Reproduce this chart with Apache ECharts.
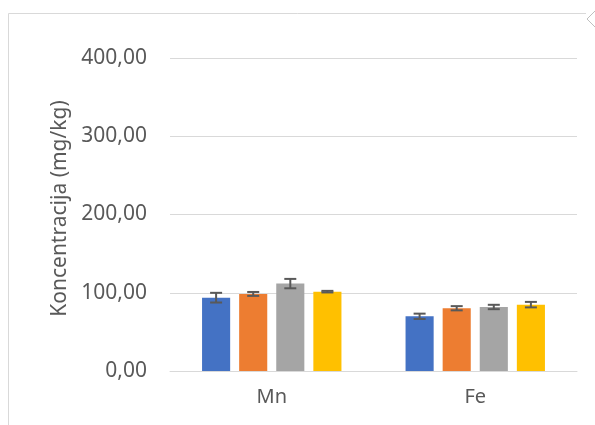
<!DOCTYPE html>
<html>
<head>
<meta charset="utf-8">
<script src="https://cdn.jsdelivr.net/npm/echarts@6/dist/echarts.min.js"></script>
<style>
  html, body { margin: 0; padding: 0; background: #fff; }
  #chart { width: 595px; height: 425px; }
</style>
</head>
<body>
<div id="chart"></div>
<script>
const categories = ['Mn', 'Fe'];
const seriesNames = ['S1', 'S2', 'S3', 'S4'];
const seriesColors = ['#4472C4', '#ED7D31', '#A5A5A5', '#FFC000'];
const values = [
  [93.7, 69.9],
  [98.5, 80.2],
  [111.7, 81.8],
  [101.4, 84.8]
];
const errors = [
  [6.2, 3.4],
  [2.5, 2.7],
  [6.0, 2.8],
  [1.0, 3.5]
];

const CAT_GAP = 0.315;
const BAR_GAP = 0.32;

const chart = echarts.init(document.getElementById('chart'));

const barSeries = seriesNames.map((name, i) => ({
  name: name,
  type: 'bar',
  data: values[i],
  itemStyle: { color: seriesColors[i] },
  barGap: (BAR_GAP * 100) + '%',
  barCategoryGap: (CAT_GAP * 100) + '%',
  z: 2
}));

const errorSeries = seriesNames.map((name, i) => ({
  type: 'custom',
  data: values[i].map((v, j) => [j, v - errors[i][j], v + errors[i][j]]),
  z: 5,
  renderItem: (params, api) => {
    const catW = api.size([1, 0])[0];
    const n = seriesNames.length;
    const barW = catW * (1 - CAT_GAP) / (n + (n - 1) * BAR_GAP);
    const total = n * barW + (n - 1) * barW * BAR_GAP;
    const off = -total / 2 + i * barW * (1 + BAR_GAP) + barW / 2;
    const lo = api.coord([api.value(0), api.value(1)]);
    const hi = api.coord([api.value(0), api.value(2)]);
    const x = lo[0] + off;
    const cap = 6;
    const style = { stroke: '#595959', lineWidth: 2 };
    return {
      type: 'group',
      children: [
        { type: 'line', shape: { x1: x, y1: lo[1], x2: x, y2: hi[1] }, style },
        { type: 'line', shape: { x1: x - cap, y1: lo[1], x2: x + cap, y2: lo[1] }, style },
        { type: 'line', shape: { x1: x - cap, y1: hi[1], x2: x + cap, y2: hi[1] }, style }
      ]
    };
  }
}));

const option = {
  backgroundColor: '#fff',
  animation: false,
  textStyle: { fontFamily: 'Noto Sans' },
  grid: { left: 170, right: 18, top: 58, bottom: 54 },
  graphic: [
    {
      type: 'polyline',
      shape: { points: [[8.5, 425], [8.5, 13.5], [586, 13.5]] },
      style: { stroke: '#d9d9d9', lineWidth: 1, fill: null }
    },
    {
      type: 'polyline',
      shape: { points: [[595, 11], [587, 19], [595, 27]] },
      style: { stroke: '#bfbfbf', lineWidth: 1, fill: null }
    }
  ],
  xAxis: {
    type: 'category',
    data: categories,
    axisLine: { lineStyle: { color: '#d9d9d9', width: 1 } },
    axisTick: { show: false },
    axisLabel: { color: '#595959', fontSize: 20, margin: 16 }
  },
  yAxis: {
    type: 'value',
    min: 0,
    max: 400,
    interval: 100,
    name: 'Koncentracija (mg/kg)',
    nameLocation: 'middle',
    nameGap: 97,
    nameTextStyle: { color: '#595959', fontSize: 21, padding: [0, 0, 0, 12] },
    axisLine: { show: false },
    axisTick: { show: false },
    splitLine: { lineStyle: { color: '#d9d9d9', width: 1 } },
    axisLabel: {
      color: '#595959',
      fontSize: 21,
      margin: 23,
      formatter: (v) => v.toFixed(2).replace('.', ',')
    }
  },
  series: [...barSeries, ...errorSeries]
};

chart.setOption(option);
</script>
</body>
</html>
